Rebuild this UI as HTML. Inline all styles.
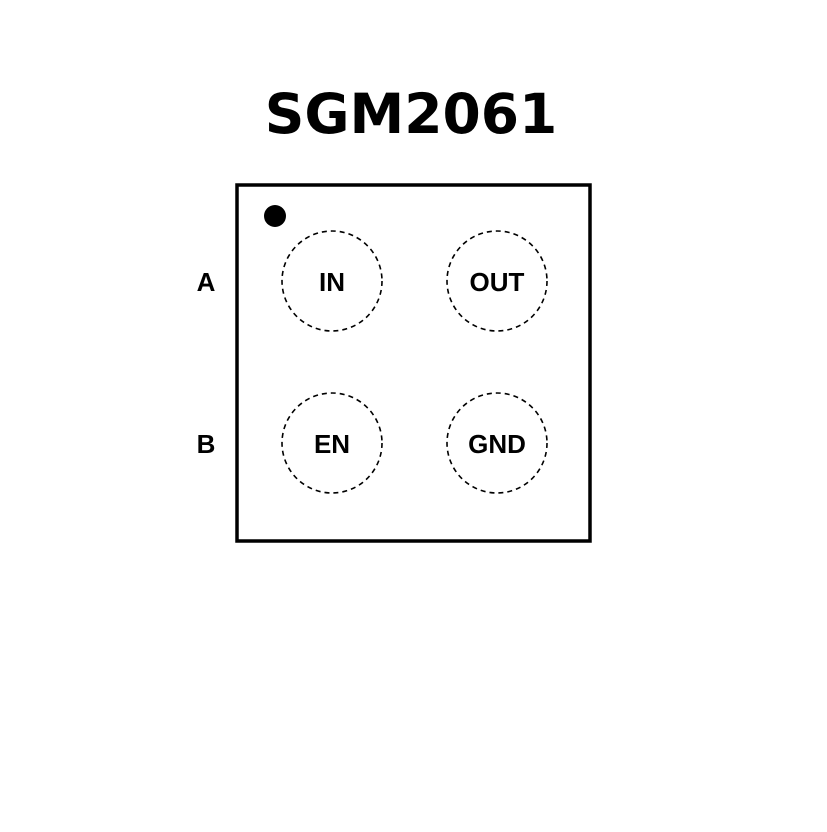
<!DOCTYPE html>
<html><head><style>body{margin:0;background:#fff}</style></head><body>
<svg width="827" height="827" xmlns="http://www.w3.org/2000/svg">
<rect width="827" height="827" fill="#fff"/>
<text x="411" y="133" text-anchor="middle" font-family="DejaVu Sans, Liberation Sans, sans-serif" font-weight="bold" font-size="55" fill="#000">SGM2061</text>
<rect x="237" y="185" width="353" height="356" fill="none" stroke="#000" stroke-width="3.5"/>
<circle cx="275" cy="216" r="11" fill="#000"/>
<g fill="none" stroke="#000" stroke-width="1.6" stroke-dasharray="5,4">
<circle cx="332" cy="281" r="50"/><circle cx="497" cy="281" r="50"/>
<circle cx="332" cy="443" r="50"/><circle cx="497" cy="443" r="50"/>
</g>
<g font-family="Liberation Sans, sans-serif" font-weight="bold" font-size="26" fill="#000" text-anchor="middle">
<text x="332" y="291">IN</text><text x="497" y="291">OUT</text>
<text x="332" y="453">EN</text><text x="497" y="453">GND</text>
<text x="206" y="291">A</text><text x="206" y="453">B</text>
</g>
</svg>
</body></html>
